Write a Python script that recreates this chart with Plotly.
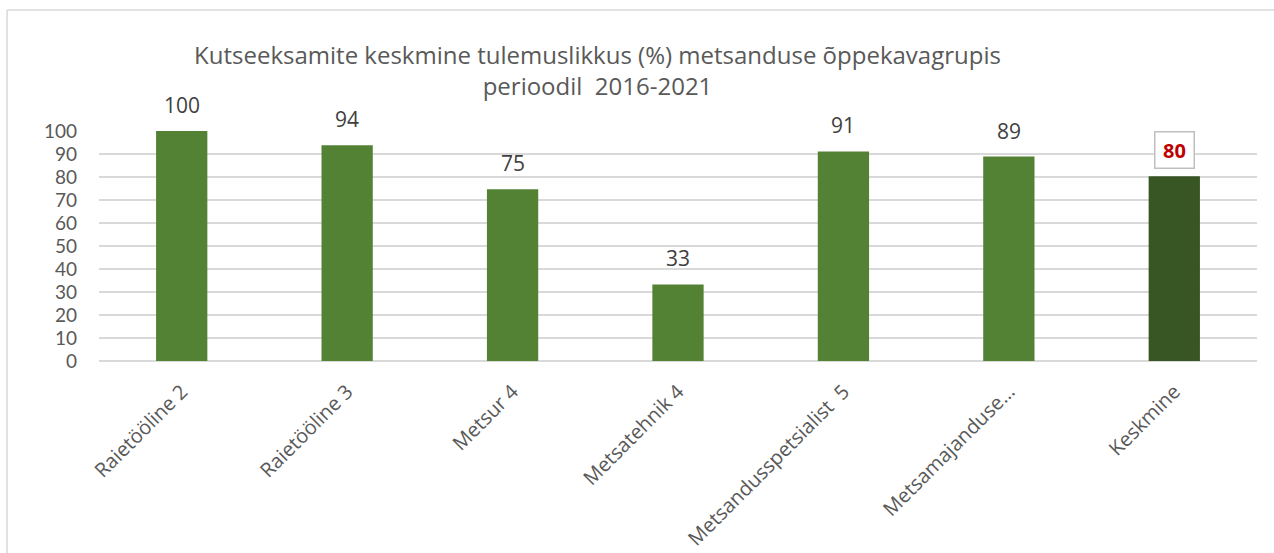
import plotly.graph_objects as go

categories = ["Raietööline 2", "Raietööline 3", "Metsur 4", "Metsatehnik 4",
              "Metsandusspetsialist  5", "Metsamajanduse…", "Keskmine"]
values = [100, 93.8, 74.7, 33.3, 91.1, 88.9, 80.3]
colors = ["#548235"] * 6 + ["#375623"]
labels = ["100", "94", "75", "33", "91", "89", "80"]

FONT = "Open Sans"
fig = go.Figure()
fig.add_trace(go.Bar(
    x=categories, y=values, marker=dict(color=colors, line=dict(width=0)),
    width=0.31, hoverinfo="x+y",
))
for cat, val, lab in zip(categories[:-1], values[:-1], labels[:-1]):
    fig.add_annotation(
        x=cat, y=val, text=lab, showarrow=False, yanchor="middle", yshift=26,
        font=dict(family=FONT, size=21, color="#404040"),
    )
fig.add_annotation(
    x=categories[-1], y=values[-1], text="<b>" + labels[-1] + "</b>", showarrow=False,
    yanchor="middle", yshift=26, width=30, height=27,
    font=dict(family=FONT, size=20, color="#C00000"),
    bordercolor="#BFBFBF", borderwidth=1.5, borderpad=4, bgcolor="white",
)
fig.update_layout(
    width=1274, height=553,
    margin=dict(l=99, r=17, t=131, b=192, autoexpand=False),
    paper_bgcolor="white", plot_bgcolor="white",
    showlegend=False,
    title=dict(
        text="Kutseeksamite keskmine tulemuslikkus (%) metsanduse õppekavagrupis<br>perioodil  2016-2021",
        x=0.469, xanchor="center", y=0.885, yanchor="middle",
        font=dict(family=FONT, size=24, color="#595959"),
    ),
    xaxis=dict(tickangle=-45, tickfont=dict(family=FONT, size=20, color="#595959"),
               showline=False, ticks="", showgrid=False, ticklabelstandoff=14,
               automargin=False),
    yaxis=dict(range=[0, 100], dtick=10, tickfont=dict(family="Lato", size=19, color="#595959"),
               gridcolor="#D9D9D9", gridwidth=1.5, zeroline=True, zerolinecolor="#D9D9D9",
               zerolinewidth=1.5, showline=False, ticks="", ticklabelstandoff=21,
               automargin=False),
    bargap=0.69,
)
fig.add_shape(type="line", xref="paper", yref="paper", x0=-0.0794, x1=1.02, y0=1.526, y1=1.526,
              line=dict(color="#D9D9D9", width=1.5))
fig.add_shape(type="line", xref="paper", yref="paper", x0=-0.0794, x1=-0.0794, y0=1.526, y1=-0.84,
              line=dict(color="#D9D9D9", width=1.5))
fig.write_html("out.html", config={"displayModeBar": False},
               post_script="document.body.style.margin='0px';")
